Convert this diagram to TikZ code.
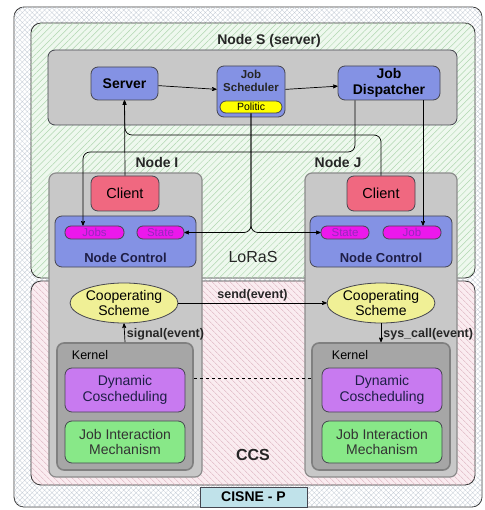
\documentclass[tikz,border=0pt]{standalone}
\usepackage{fontspec}
\setmainfont{Liberation Sans}
\usetikzlibrary{arrows,shapes.geometric,patterns.meta}
\definecolor{boxblue}{RGB}{132,146,228}
\definecolor{clientred}{RGB}{240,104,128}
\definecolor{pillmag}{RGB}{236,24,236}
\definecolor{pilltext}{RGB}{150,40,190}
\definecolor{coopyel}{RGB}{240,240,150}
\definecolor{polyel}{RGB}{255,255,0}
\definecolor{kerngray}{RGB}{166,166,166}
\definecolor{nodegray}{RGB}{200,200,200}
\definecolor{dynpurple}{RGB}{200,122,240}
\definecolor{jimgreen}{RGB}{136,232,136}
\definecolor{cisneblue}{RGB}{192,226,234}
\definecolor{borderc}{RGB}{70,70,80}
\definecolor{hatchgray}{RGB}{196,204,214}
\definecolor{lorasbg}{RGB}{238,248,238}
\definecolor{lorasline}{RGB}{176,214,176}
\definecolor{ccsbg}{RGB}{250,236,240}
\definecolor{ccsline}{RGB}{218,176,188}
\definecolor{navy}{RGB}{30,30,70}

\begin{document}
\begin{tikzpicture}[x=1pt,y=-1pt,>=stealth',
  box/.style={draw=borderc,line width=0.8pt,rounded corners=7pt,inner sep=0pt},
  region/.style={draw=black!80,line width=0.8pt,rounded corners=10pt,inner sep=0pt},
  bluebox/.style={box,fill=boxblue,align=center,font=\fontsize{14}{15}\selectfont\bfseries},
  graybox/.style={box,draw=black!45,line width=1.2pt,fill=nodegray},
  clientbox/.style={box,fill=clientred,font=\fontsize{14.5}{15}\selectfont,minimum width=68pt,minimum height=35pt},
  pill/.style={box,fill=pillmag,rounded corners=6pt,text=pilltext,font=\fontsize{11.5}{12}\selectfont,minimum height=13pt},
  coop/.style={draw=borderc,line width=0.8pt,ellipse,fill=coopyel,align=center,inner sep=0pt,minimum width=102pt,minimum height=40pt,font=\fontsize{14}{15}\selectfont},
  kernbox/.style={box,draw=black!50,line width=1.6pt,fill=kerngray,minimum height=127pt},
  dynbox/.style={box,fill=dynpurple,align=center,minimum width=120pt,minimum height=44pt,text=navy,font=\fontsize{14}{15.5}\selectfont},
  jimbox/.style={box,fill=jimgreen,align=center,minimum width=120pt,minimum height=42pt,text=black!80,font=\fontsize{14}{15.5}\selectfont},
  lbl/.style={font=\fontsize{14}{15}\selectfont\bfseries,text=black!85},
  evt/.style={font=\fontsize{12.5}{13}\selectfont\bfseries,text=black!85,inner sep=2pt}]

  \useasboundingbox (0,0) rectangle (484,510);

  % the three areas
  \node[region,fill=white,minimum width=468pt,minimum height=500pt,
    postaction={pattern={Hatch[angle=45,distance=3.5pt,line width=0.3pt]},pattern color=hatchgray}] (cisneR) at (248,257) {};
  \node[region,fill=lorasbg,minimum width=444pt,minimum height=255pt,
    postaction={pattern={Lines[angle=45,distance=4.5pt,line width=0.5pt]},pattern color=lorasline}] (lorasR) at (253,150.5) {};
  \node[region,fill=ccsbg,minimum width=444pt,minimum height=204pt,
    postaction={pattern={Lines[angle=-45,distance=4pt,line width=0.5pt]},pattern color=ccsline}] (ccsR) at (253,383) {};

  % node S
  \node[box,fill=nodegray,minimum width=409pt,minimum height=75pt] (nodeS) at (252.5,87.5) {};
  \node[lbl] (labS) at (269,41) {Node S (server)};
  \node[bluebox,minimum width=67pt,minimum height=33pt] (server) at (124.5,83.5) {Server};
  \node[bluebox,minimum width=68pt,minimum height=51pt] (sched) at (251,91.5) {};
  \node[align=center,font=\fontsize{11.5}{12.5}\selectfont\bfseries,text=black!85] (schedT) at (251,81) {Job\\Scheduler};
  \node[box,fill=polyel,rounded corners=6pt,minimum width=62pt,minimum height=12pt,font=\fontsize{10.5}{11}\selectfont] (pol) at (251,107) {Politic};
  \node[bluebox,minimum width=102pt,minimum height=34pt,font=\fontsize{14}{15.5}\selectfont\bfseries] (disp) at (389,83) {Job\\Dispatcher};

  % nodes I and J
  \node[graybox,minimum width=153pt,minimum height=304pt] (nodeI) at (125.5,325) {};
  \node[graybox,minimum width=152pt,minimum height=304pt] (nodeJ) at (381,325) {};
  \node[lbl] (labI) at (157,162) {Node I};
  \node[lbl] (labJ) at (338,162) {Node J};

  \node[clientbox] (clientI) at (125,193.5) {Client};
  \node[clientbox] (clientJ) at (381,193.5) {Client};

  \node[box,fill=boxblue,minimum width=141pt,minimum height=51pt] (ctrlI) at (125.5,241.5) {};
  \node[box,fill=boxblue,minimum width=142pt,minimum height=51pt] (ctrlJ) at (381,241.5) {};
  \node[font=\fontsize{13}{14}\selectfont\bfseries,text=navy] (ctrlIT) at (125.5,258) {Node Control};
  \node[font=\fontsize{13}{14}\selectfont\bfseries,text=navy] (ctrlJT) at (381,258) {Node Control};
  \node[pill,minimum width=59pt] (jobsI) at (94.5,232.5) {Jobs};
  \node[pill,minimum width=47pt] (stateI) at (160.5,232.5) {State};
  \node[pill,minimum width=48pt] (stateJ) at (345,232.5) {State};
  \node[pill,minimum width=58pt] (jobJ) at (412,232.5) {Job};

  \node[coop] (csI) at (124,303) {Cooperating\\Scheme};
  \node[coop] (csJ) at (381,303) {Cooperating\\Scheme};

  \node[kernbox,minimum width=136pt] (kernI) at (125,406.5) {};
  \node[kernbox,minimum width=138pt] (kernJ) at (381,406.5) {};
  \node[font=\fontsize{12.5}{13}\selectfont] (kernIT) at (90,355) {Kernel};
  \node[font=\fontsize{12.5}{13}\selectfont] (kernJT) at (350,355) {Kernel};
  \node[dynbox] (dynI) at (125,390) {Dynamic\\Coscheduling};
  \node[dynbox] (dynJ) at (382,390) {Dynamic\\Coscheduling};
  \node[jimbox] (jimI) at (125,442) {Job Interaction\\Mechanism};
  \node[jimbox] (jimJ) at (382,442) {Job Interaction\\Mechanism};

  \node[font=\fontsize{16}{17}\selectfont,text=black!85] (lorasT) at (253,257) {LoRaS};
  \node[font=\fontsize{16}{17}\selectfont\bfseries,text=black!85] (ccsT) at (253,455) {CCS};
  \node[draw=borderc,line width=0.8pt,fill=cisneblue,minimum width=107pt,minimum height=20pt,inner sep=0pt,font=\fontsize{14}{15}\selectfont\bfseries] (cisne) at (253.5,497) {CISNE - P};

  \coordinate (busS) at (125,135);
  \coordinate (busD) at (83,152);

  \path[->,line width=0.7pt] (server) edge (sched)
        (sched) edge (disp)
        (clientI.north) edge (server.south)
        (csI) edge node[evt,above] {send(event)} (csJ)
        (kernI.north) edge node[evt,right,pos=0.4] {signal(event)} (csI.south)
        (csJ.south) edge node[evt,right,pos=0.6] {sys\_call(event)} (kernJ.north);
  \draw[->,line width=0.7pt,rounded corners=7pt] (clientJ.north) |- (busS) -- (server.south);
  \draw[->,line width=0.7pt,rounded corners=7pt] ([xshift=-34pt]disp.south) |- (busD) -- (busD |- jobsI.north);
  \draw[->,line width=0.7pt] ([xshift=34pt]disp.south) -- ([xshift=34pt]disp.south |- jobJ.north);
  \draw[->,line width=0.7pt,rounded corners=7pt] (pol.south) |- (stateI.east);
  \draw[->,line width=0.7pt,rounded corners=7pt] (pol.south) |- (stateJ.west);
  \draw[dashed,line width=0.6pt] ([yshift=28.5pt]kernI.east) -- ([yshift=28.5pt]kernJ.west);
\end{tikzpicture}
\end{document}
